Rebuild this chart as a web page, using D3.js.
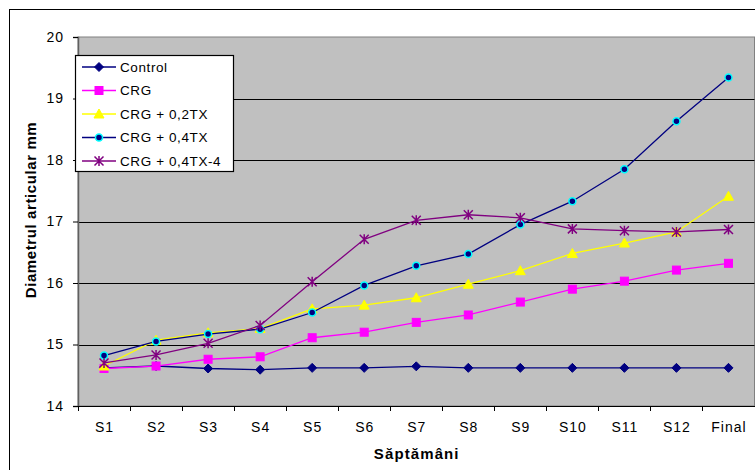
<!DOCTYPE html>
<html>
<head>
<meta charset="utf-8">
<script src="https://cdn.jsdelivr.net/npm/d3@7"></script>
<style>
  html, body { margin: 0; padding: 0; background: #fff; }
  svg { display: block; font-family: "Liberation Sans", Arial, sans-serif; }
</style>
</head>
<body>
<svg id="chart" width="755" height="470"></svg>
<script>
// Weekly joint diameter (mm) per treatment group
const categories = ["S1","S2","S3","S4","S5","S6","S7","S8","S9","S10","S11","S12","Final"];
const seriesNames = ["Control","CRG","CRG + 0,2TX","CRG + 0,4TX","CRG + 0,4TX-4"];
const control   = [14.62,14.65,14.61,14.59,14.62,14.62,14.645,14.62,14.62,14.62,14.62,14.62,14.62];
const crg       = [14.61,14.65,14.76,14.80,15.11,15.20,15.36,15.48,15.69,15.90,16.03,16.21,16.32];
const crg02     = [14.65,15.07,15.19,15.26,15.58,15.64,15.76,15.98,16.20,16.48,16.65,16.83,17.41];
const crg04     = [14.82,15.05,15.17,15.25,15.52,15.96,16.28,16.47,16.95,17.33,17.85,18.63,19.34];
const crg04_4   = [14.70,14.83,15.02,15.31,16.02,16.71,17.02,17.11,17.06,16.88,16.85,16.83,16.87];
const yTicks    = [14,15,16,17,18,19,20];
const yTitle = "Diametrul articular mm";
const xTitle = "Săptămâni";

const series = [
  { name: seriesNames[0], values: control, line: "#000080", marker: "diamond", fill: "#000080", stroke: "#000080" },
  { name: seriesNames[1], values: crg,     line: "#FF00FF", marker: "square",  fill: "#FF00FF", stroke: "#FF00FF" },
  { name: seriesNames[2], values: crg02,   line: "#FFFF00", marker: "triangle",fill: "#FFFF00", stroke: "#FFFF00" },
  { name: seriesNames[3], values: crg04,   line: "#000080", marker: "circle",  fill: "#000080", stroke: "#00FFFF" },
  { name: seriesNames[4], values: crg04_4, line: "#800080", marker: "star",    fill: "none",    stroke: "#800080" }
];

const svg = d3.select("#chart");
const plot = { left: 78, right: 754.5, top: 37, bottom: 406 };
const FONT = "Liberation Sans, Arial, sans-serif";

const x = d3.scaleBand().domain(categories).range([plot.left, plot.right]).padding(0);
const y = d3.scaleLinear().domain([14, 20]).range([plot.bottom, plot.top]);
const cx = c => x(c) + x.bandwidth() / 2;

// chart area frame
svg.append("rect").attr("x", 9.5).attr("y", 9.5).attr("width", 800).attr("height", 500)
  .attr("fill", "#fff").attr("stroke", "#000").attr("stroke-width", 1);

// plot area
svg.append("rect").attr("x", plot.left).attr("y", plot.top)
  .attr("width", plot.right - plot.left).attr("height", plot.bottom - plot.top)
  .attr("fill", "#C0C0C0").attr("stroke", "#808080").attr("stroke-width", 1);

// horizontal gridlines
svg.append("g").selectAll("line").data(yTicks.filter(t => t > 14 && t < 20)).join("line")
  .attr("x1", plot.left).attr("x2", plot.right)
  .attr("y1", d => Math.round(y(d)) + 0.5).attr("y2", d => Math.round(y(d)) + 0.5)
  .attr("stroke", "#000").attr("stroke-width", 1);

// y axis
const yAxis = svg.append("g").attr("transform", `translate(${plot.left},0)`)
  .call(d3.axisLeft(y).tickValues(yTicks).tickSize(5).tickPadding(9).tickFormat(d3.format("d")));
yAxis.select(".domain").attr("stroke", "#606060").attr("stroke-width", 1.5);
yAxis.selectAll(".tick line").attr("stroke", "#000");
yAxis.selectAll("text").attr("font-size", 14).attr("letter-spacing", "1px").attr("fill", "#000")
  .attr("font-family", FONT);

// x axis: labels centred in bands, tick marks on band boundaries
const xAxis = svg.append("g").attr("transform", `translate(0,${plot.bottom})`)
  .call(d3.axisBottom(x).tickSize(0).tickPadding(16));
xAxis.select(".domain").attr("stroke", "#000");
xAxis.selectAll("text").attr("font-size", 14).attr("letter-spacing", "1px").attr("fill", "#000")
  .attr("font-family", FONT).attr("dx", "0.5px");
const bounds = categories.map(c => x(c)).concat([plot.right]);
svg.append("g").selectAll("line").data(bounds).join("line")
  .attr("x1", d => Math.round(d) + 0.5).attr("x2", d => Math.round(d) + 0.5)
  .attr("y1", plot.bottom).attr("y2", plot.bottom + 5)
  .attr("stroke", "#000");

// axis titles
svg.append("text").attr("x", (plot.left + plot.right) / 2 + 0.5).attr("y", 459)
  .attr("text-anchor", "middle").attr("font-weight", "bold").attr("font-size", 15)
  .attr("letter-spacing", "1.1px").text(xTitle);
svg.append("text")
  .attr("transform", `translate(36,210) rotate(-90)`)
  .attr("text-anchor", "middle").attr("font-weight", "bold").attr("font-size", 15)
  .attr("letter-spacing", "0.6px").text(yTitle);

// marker drawing
function drawMarker(g, s, px, py) {
  if (s.marker === "diamond") {
    g.append("path").attr("d", `M${px},${py-4.5}L${px+4.5},${py}L${px},${py+4.5}L${px-4.5},${py}Z`)
      .attr("fill", s.fill).attr("stroke", s.stroke);
  } else if (s.marker === "square") {
    g.append("rect").attr("x", px - 4).attr("y", py - 4).attr("width", 8).attr("height", 8)
      .attr("fill", s.fill).attr("stroke", s.stroke);
  } else if (s.marker === "triangle") {
    g.append("path").attr("d", `M${px},${py-5}L${px+5},${py+4}L${px-5},${py+4}Z`)
      .attr("fill", s.fill).attr("stroke", s.stroke);
  } else if (s.marker === "circle") {
    g.append("circle").attr("cx", px).attr("cy", py).attr("r", 3.5)
      .attr("fill", s.fill).attr("stroke", s.stroke).attr("stroke-width", 1.5);
  } else if (s.marker === "star") {
    const r = 4.5;
    g.append("path")
      .attr("d", `M${px-r},${py-r}L${px+r},${py+r}M${px-r},${py+r}L${px+r},${py-r}M${px},${py-r-0.5}L${px},${py+r+0.5}`)
      .attr("fill", "none").attr("stroke", s.stroke).attr("stroke-width", 1.5);
  }
}

const line = d3.line().x((d, i) => cx(categories[i])).y(d => y(d));
series.forEach(s => {
  const g = svg.append("g");
  g.append("path").datum(s.values).attr("d", line)
    .attr("fill", "none").attr("stroke", s.line).attr("stroke-width", 1.3);
  s.values.forEach((v, i) => drawMarker(g, s, cx(categories[i]), y(v)));
});

// legend
const lg = svg.append("g");
lg.append("rect").attr("x", 75.5).attr("y", 55.5).attr("width", 158).attr("height", 116)
  .attr("fill", "#fff").attr("stroke", "#000").attr("stroke-width", 1.2);
series.forEach((s, i) => {
  const ly = 67 + i * 23.5;
  lg.append("line").attr("x1", 82).attr("x2", 116).attr("y1", ly).attr("y2", ly)
    .attr("stroke", s.line).attr("stroke-width", 1.3);
  drawMarker(lg, s, 99, ly);
  lg.append("text").attr("x", 120).attr("y", ly).attr("dy", "0.36em")
    .attr("font-size", 13.5).attr("letter-spacing", "0.6px").attr("fill", "#000")
    .attr("font-family", FONT).text(s.name);
});
</script>
</body>
</html>
